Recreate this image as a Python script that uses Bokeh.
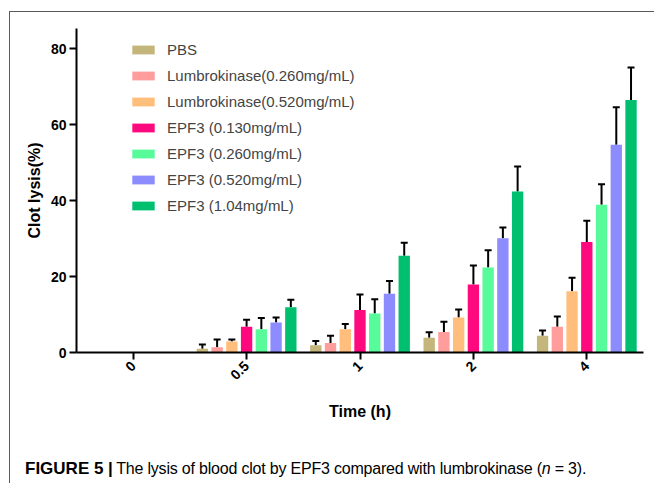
import math
from bokeh.plotting import figure
from bokeh.layouts import column
from bokeh.models import (ColumnDataSource, FactorRange, Legend, LegendItem, Whisker,
                          TeeHead, FixedTicker, Range1d, Div)
from bokeh.transform import dodge
from bokeh.embed import file_html
from bokeh.resources import INLINE

# ---------------- data ----------------
times = ["0", "0.5", "1", "2", "4"]
series = ["PBS", "Lumbrokinase(0.260mg/mL)", "Lumbrokinase(0.520mg/mL)",
          "EPF3 (0.130mg/mL)", "EPF3 (0.260mg/mL)", "EPF3 (0.520mg/mL)",
          "EPF3 (1.04mg/mL)"]
colors = ["#C4B57B", "#FF9C9C", "#FFBE7C", "#FF0A7E", "#58FB9A", "#8C8CFF", "#00BF6F"]

pbs = [0, 1.0, 1.9, 3.9, 4.4]
pbs_err = [0, 1.1, 1.1, 1.4, 1.4]
lk260 = [0, 1.4, 2.5, 5.4, 6.8]
lk260_err = [0, 2.0, 1.9, 2.7, 2.7]
lk520 = [0, 2.9, 6.1, 9.2, 16.1]
lk520_err = [0, 0.5, 1.4, 2.1, 3.6]
epf130 = [0, 6.8, 11.2, 17.9, 29.1]
epf130_err = [0, 1.8, 4.1, 5.0, 5.6]
epf260 = [0, 6.1, 10.3, 22.4, 38.9]
epf260_err = [0, 3.0, 3.7, 4.5, 5.4]
epf520 = [0, 7.9, 15.5, 30.1, 54.7]
epf520_err = [0, 1.3, 3.3, 2.8, 9.9]
epf1040 = [0, 11.9, 25.5, 42.4, 66.5]
epf1040_err = [0, 2.0, 3.4, 6.6, 8.5]

y_ticks = [0, 20, 40, 60, 80]

values = [pbs, lk260, lk520, epf130, epf260, epf520, epf1040]
errors = [pbs_err, lk260_err, lk520_err, epf130_err, epf260_err, epf520_err, epf1040_err]

# ---------------- figure ----------------
W, H = 644, 438
FL, FT, FR, FB = 66, 16, 11, 98
p = figure(width=W, height=H, x_range=FactorRange(*times, range_padding=0),
           y_range=Range1d(0, 85.3), output_backend="svg", toolbar_location=None,
           min_border_left=FL, min_border_top=FT, min_border_right=FR, min_border_bottom=FB)
p.outline_line_color = None
p.grid.visible = False
p.background_fill_color = "white"
p.border_fill_color = "white"

pitch = 0.13
bar_w = 0.10
items = []
for j, (name, col) in enumerate(zip(series, colors)):
    off = (j - 3) * pitch
    src = ColumnDataSource(dict(time=times, top=values[j]))
    r = p.vbar(x=dodge("time", off, range=p.x_range), top="top", width=bar_w,
               source=src, fill_color=col, line_color=None)
    items.append(LegendItem(label=name, renderers=[r]))
    keep = [i for i in range(len(times)) if errors[j][i] > 0]
    esrc = ColumnDataSource(dict(time=[times[i] for i in keep],
                                 lower=[values[j][i] for i in keep],
                                 upper=[values[j][i] + errors[j][i] for i in keep]))
    w = Whisker(base=dodge("time", off, range=p.x_range), lower="lower", upper="upper",
                source=esrc, line_color="black", line_width=2,
                upper_head=TeeHead(size=7, line_width=2, line_color="black"),
                lower_head=None)
    p.add_layout(w)

legend = Legend(items=items, location=(48, 132), spacing=6, label_height=20,
                glyph_height=11, glyph_width=28, padding=5, label_standoff=10,
                label_text_font_size="15px", label_text_font="Liberation Sans",
                border_line_alpha=0, background_fill_alpha=0, margin=0)
p.add_layout(legend)

# axes
for ax in (p.xaxis[0], p.yaxis[0]):
    ax.axis_line_width = 2
    ax.axis_line_color = "black"
    ax.major_tick_line_width = 2
    ax.major_tick_line_color = "black"
    ax.major_tick_in = 0
    ax.major_tick_out = 7
    ax.minor_tick_line_color = None
    ax.major_label_text_font = "Liberation Sans"
    ax.major_label_text_font_style = "bold"
    ax.major_label_text_font_size = "14px"
    ax.major_label_text_color = "black"
    ax.axis_label_text_font = "Liberation Sans"
    ax.axis_label_text_font_style = "bold"
    ax.axis_label_text_font_size = "16px"
    ax.axis_label_text_color = "black"

p.yaxis.ticker = FixedTicker(ticks=y_ticks)
p.yaxis.axis_label = "Clot lysis(%)"
p.yaxis.major_label_standoff = 3
p.yaxis.axis_label_standoff = 5
p.xaxis.axis_label = "Time (h)"
p.xaxis.major_label_orientation = math.pi / 4
p.xaxis.major_label_standoff = 4
p.xaxis.axis_label_standoff = 16

caption = Div(
    text=("<span style=\"font-family:'Liberation Sans';font-weight:bold;font-size:17px;\">"
          "FIGURE 5 |</span> "
          "<span style=\"font-family:'Liberation Sans';font-size:16px;letter-spacing:-0.2px;\">"
          "The lysis of blood clot by EPF3 compared with lumbrokinase (<i>n</i> = 3).</span>"),
    width=W, height=33,
    styles={"padding-left": "10px", "padding-top": "2px", "color": "black",
            "white-space": "nowrap", "box-sizing": "border-box"})

root = column(p, caption, spacing=0,
              styles={"margin-left": "9px", "margin-top": "11px",
                      "border-left": "1px solid #5a5a5a", "border-top": "1px solid #5a5a5a"})

open("out.html", "w").write(file_html(root, INLINE))
